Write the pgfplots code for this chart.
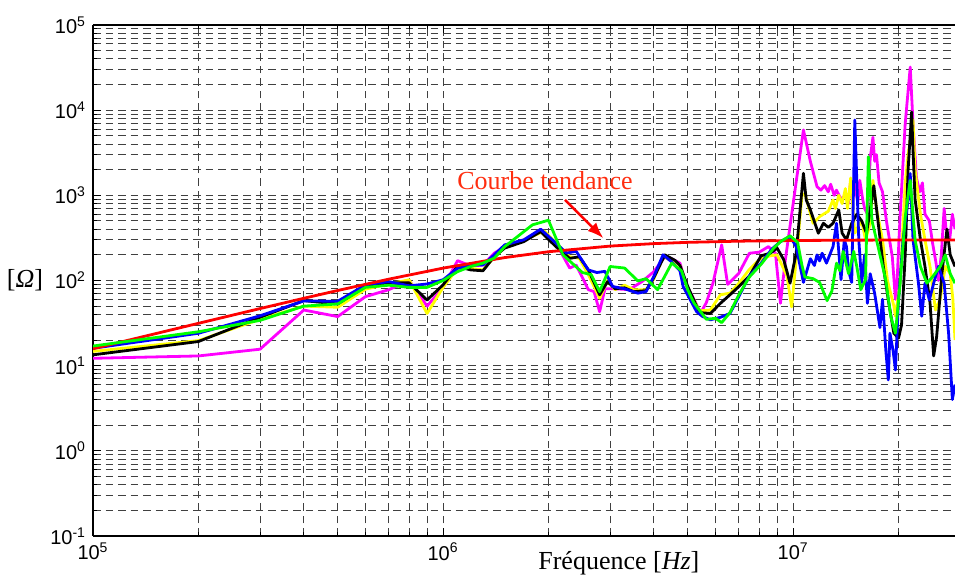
\documentclass[border=0pt]{standalone}
\usepackage{fontspec}
\setmainfont{Liberation Serif}
\setsansfont{Liberation Sans}
\usepackage{pgfplots}
\pgfplotsset{compat=1.18}
\usetikzlibrary{arrows.meta}
\definecolor{annot}{RGB}{255,45,15}
\definecolor{cmag}{RGB}{255,0,255}
\definecolor{cyel}{RGB}{255,255,0}
\definecolor{cgre}{RGB}{0,255,0}
\definecolor{cblu}{RGB}{0,0,255}
\definecolor{cred}{RGB}{255,0,0}
\begin{document}
\begin{tikzpicture}
\begin{axis}[
  scale only axis, width=431pt, height=255.5pt,
  xmode=log, ymode=log,
  xmin=1e5, xmax=2.9e7, ymin=1e-1, ymax=1e5,
  axis x line=box, axis y line=left,
  axis line style={-, line width=0.7pt, black},
  every outer x axis line/.append style={-},
  every outer y axis line/.append style={-},
  tick align=inside,
  xtick={1e5,1e6,1e7},
  xticklabels={10\textsuperscript{5},10\textsuperscript{6},10\textsuperscript{7}},
  ytick={1e-1,1,10,100,1000,1e4,1e5},
  yticklabels={10\textsuperscript{-1},10\textsuperscript{0},10\textsuperscript{1},10\textsuperscript{2},10\textsuperscript{3},10\textsuperscript{4},10\textsuperscript{5}},
  minor xtick={2e5,3e5,4e5,5e5,6e5,7e5,8e5,9e5,2e6,3e6,4e6,5e6,6e6,7e6,8e6,9e6,2e7},
  minor ytick={0.2,0.3,0.4,0.5,0.6,0.7,0.8,0.9,2,3,4,5,6,7,8,9,20,30,40,50,60,70,80,90,200,300,400,500,600,700,800,900,2000,3000,4000,5000,6000,7000,8000,9000,20000,30000,40000,50000,60000,70000,80000,90000},
  grid=both,
  major grid style={black!75, dash pattern=on 3.75pt off 2.5pt, line width=0.5pt},
  minor grid style={black!75, dash pattern=on 3.75pt off 2.5pt, line width=0.5pt},
  tick style={black, line width=0.5pt},
  major tick length=4pt, minor tick length=2pt,
  ticklabel style={font=\sffamily\fontsize{10}{12}\selectfont},
  xlabel={Fréquence [\textit{Hz}]},
  ylabel={[\textit{Ω}]},
  every axis x label/.style={at={(axis description cs:0.61,0)},anchor=center,yshift=-13.5pt,font=\fontsize{13}{15}\selectfont},
  every axis y label/.style={at={(axis description cs:0,0.5)},anchor=center,xshift=-34pt,font=\fontsize{13}{15}\selectfont},
  every axis plot/.append style={line width=1.4pt, line join=round},
]
% magenta
\addplot[cmag] coordinates {
(1e5,12.2) (2e5,13) (3e5,15.6) (4e5,45) (5e5,37.7) (6e5,64.6) (7e5,78) (8e5,100) (9e5,50) (1e6,83)
(1.1e6,171) (1.2e6,148) (1.3e6,152) (1.4e6,209) (1.5e6,250) (1.7e6,290) (1.9e6,400) (2.1e6,275)
(2.3e6,140) (2.4e6,152) (2.6e6,78) (2.7e6,74) (2.8e6,43) (2.9e6,80) (3.1e6,80) (3.4e6,78) (3.7e6,97)
(4e6,127) (4.3e6,190) (4.5e6,180) (4.75e6,160) (5e6,78) (5.1e6,71) (5.35e6,48) (5.45e6,42) (5.65e6,55)
(5.9e6,93) (6.25e6,262) (6.5e6,90) (7e6,122) (7.5e6,209) (8e6,215) (8.5e6,250) (8.9e6,209) (9.2e6,54)
(9.5e6,175) (1e7,800) (1.07e7,5860) (1.12e7,2500) (1.17e7,1265) (1.2e7,1150) (1.23e7,1300) (1.26e7,1100)
(1.28e7,1350) (1.31e7,1000) (1.33e7,1150) (1.37e7,900) (1.41e7,1000) (1.44e7,800) (1.46e7,1500) (1.48e7,900)
(1.5e7,1400) (1.53e7,800) (1.55e7,1500) (1.58e7,900) (1.6e7,700) (1.63e7,600) (1.66e7,2700) (1.69e7,4800)
(1.71e7,2500) (1.73e7,3000) (1.76e7,1400) (1.8e7,1100) (1.85e7,480) (1.92e7,190) (1.96e7,60) (1.98e7,93)
(2.02e7,560) (2.09e7,7000) (2.16e7,32000) (2.2e7,7000) (2.25e7,1600) (2.3e7,1100) (2.34e7,1400) (2.38e7,600)
(2.45e7,500) (2.5e7,280) (2.56e7,160) (2.6e7,100) (2.65e7,200) (2.7e7,700) (2.73e7,420) (2.8e7,300) (2.85e7,600) (2.9e7,400)
};
% yellow
\addplot[cyel] coordinates {
(1e5,14.7) (2e5,19.7) (3e5,35) (4e5,50) (5e5,48.5) (6e5,79) (7e5,91) (8e5,102) (9e5,41) (1e6,83)
(1.1e6,139) (1.2e6,139) (1.3e6,133) (1.4e6,188) (1.5e6,245) (1.7e6,300) (1.95e6,380) (2.1e6,275)
(2.3e6,190) (2.45e6,182) (2.6e6,117) (2.8e6,62) (2.95e6,100) (3.1e6,78) (3.3e6,88) (3.5e6,78) (3.8e6,78)
(4e6,104) (4.25e6,190) (4.6e6,165) (4.75e6,150) (5e6,80) (5.4e6,44) (5.8e6,45) (6.2e6,68) (6.6e6,71)
(7e6,93) (7.5e6,135) (8e6,175) (8.6e6,195) (9e6,200) (9.6e6,113) (9.9e6,49) (1.02e7,175) (1.06e7,1000)
(1.08e7,1050) (1.14e7,470) (1.19e7,562) (1.22e7,600) (1.26e7,650) (1.3e7,883) (1.32e7,700) (1.35e7,1000)
(1.38e7,800) (1.41e7,1200) (1.43e7,700) (1.46e7,1600) (1.5e7,360) (1.53e7,420) (1.57e7,500) (1.61e7,300)
(1.66e7,470) (1.69e7,1500) (1.73e7,700) (1.8e7,300) (1.86e7,100) (1.94e7,50) (1.96e7,38) (2.02e7,93)
(2.09e7,1390) (2.13e7,3000) (2.2e7,7700) (2.23e7,2000) (2.31e7,600) (2.38e7,300) (2.46e7,146) (2.55e7,45)
(2.63e7,60) (2.72e7,146) (2.81e7,120) (2.86e7,60) (2.9e7,20)
};
% black
\addplot[black] coordinates {
(1e5,13.4) (2e5,19.2) (3e5,37) (4e5,58) (5e5,53) (6e5,85) (7e5,94) (8e5,94) (9e5,59) (1e6,89)
(1.1e6,146) (1.2e6,133) (1.3e6,130) (1.4e6,191) (1.5e6,240) (1.7e6,286) (1.9e6,375) (2.1e6,250)
(2.3e6,182) (2.45e6,190) (2.6e6,133) (2.8e6,68) (2.95e6,97) (3.1e6,80) (3.3e6,82) (3.5e6,74) (3.8e6,76)
(4e6,108) (4.3e6,200) (4.6e6,172) (4.75e6,150) (5e6,85) (5.4e6,42) (5.8e6,41) (6.2e6,54) (6.6e6,68)
(7e6,85) (7.5e6,113) (8.1e6,195) (8.6e6,209) (9e6,240) (9.4e6,175) (9.8e6,93) (1.02e7,209) (1.07e7,1815)
(1.09e7,883) (1.12e7,674) (1.18e7,359) (1.22e7,470) (1.26e7,420) (1.3e7,470) (1.35e7,674) (1.38e7,360)
(1.42e7,300) (1.47e7,470) (1.52e7,600) (1.57e7,500) (1.62e7,359) (1.66e7,674) (1.7e7,1300) (1.75e7,470)
(1.81e7,146) (1.87e7,59) (1.94e7,24) (2e7,21) (2.04e7,30) (2.09e7,200) (2.13e7,2000) (2.18e7,9500)
(2.2e7,3400) (2.23e7,900) (2.31e7,300) (2.38e7,146) (2.46e7,55) (2.52e7,13) (2.57e7,22) (2.66e7,120)
(2.75e7,400) (2.81e7,200) (2.9e7,146)
};
% blue
\addplot[cblu] coordinates {
(1e5,16) (2e5,24) (3e5,38.5) (4e5,57.6) (5e5,57) (6e5,89) (7e5,97) (8e5,86.5) (9e5,91) (1e6,102)
(1.1e6,139) (1.2e6,152) (1.3e6,152) (1.4e6,200) (1.5e6,262) (1.7e6,300) (1.9e6,400) (2.1e6,275)
(2.25e6,210) (2.4e6,220) (2.6e6,133) (2.75e6,124) (2.9e6,128) (3.05e6,85) (3.3e6,80) (3.6e6,71) (3.8e6,74)
(4e6,112) (4.25e6,200) (4.5e6,165) (4.75e6,130) (4.85e6,85) (5.3e6,43) (5.5e6,38) (5.8e6,34.5) (6.2e6,37)
(6.6e6,41) (7e6,65) (7.5e6,113) (8.1e6,160) (8.7e6,235) (9.2e6,286) (9.8e6,328) (1.02e7,250) (1.07e7,95)
(1.12e7,180) (1.15e7,150) (1.17e7,200) (1.19e7,170) (1.21e7,209) (1.245e7,160) (1.3e7,250) (1.33e7,470)
(1.37e7,102) (1.4e7,300) (1.42e7,250) (1.44e7,130) (1.47e7,95) (1.5e7,7670) (1.54e7,300) (1.57e7,95)
(1.6e7,200) (1.63e7,54) (1.66e7,120) (1.71e7,70) (1.77e7,28) (1.8e7,60) (1.84e7,15) (1.87e7,6.8)
(1.89e7,24) (1.93e7,15) (1.96e7,8.9) (2e7,59) (2.06e7,300) (2.13e7,900) (2.16e7,1800) (2.2e7,300)
(2.28e7,93) (2.33e7,38) (2.38e7,93) (2.45e7,59) (2.52e7,93) (2.6e7,146) (2.7e7,93) (2.78e7,24)
(2.85e7,4) (2.9e7,6)
};
% red trend
\addplot[cred] coordinates {
(1e5,15.8) (2e5,31.4) (3e5,46.8) (4e5,61.8) (5e5,76.3) (7e5,103.7) (1e6,139.7) (1.5e6,185.8)
(2e6,217.5) (3e6,253.5) (4e6,271) (5e6,280.5) (7e6,289.5) (1e7,294.7) (1.5e7,297.6) (2e7,298.6) (3e7,299.4)
};
% green
\addplot[cgre] coordinates {
(1e5,17) (2e5,25) (3e5,34) (4e5,50) (5e5,53) (6e5,83) (7e5,88) (8e5,83) (9e5,83) (1e6,100)
(1.1e6,127) (1.2e6,146) (1.3e6,160) (1.4e6,183) (1.5e6,250) (1.8e6,450) (2e6,510) (2.2e6,200)
(2.5e6,124) (2.65e6,117) (2.8e6,74) (3e6,146) (3.3e6,140) (3.6e6,99) (3.8e6,105) (4.1e6,78) (4.5e6,160)
(4.8e6,130) (5e6,78) (5.2e6,55) (5.65e6,35) (6e6,36) (6.25e6,32) (6.6e6,42) (7e6,68) (7.5e6,110)
(8.1e6,155) (8.8e6,240) (9.2e6,286) (9.8e6,335) (1.03e7,280) (1.06e7,150) (1.08e7,110) (1.14e7,105)
(1.19e7,95) (1.25e7,58) (1.29e7,75) (1.33e7,160) (1.36e7,130) (1.39e7,220) (1.44e7,120) (1.49e7,220)
(1.52e7,146) (1.56e7,78) (1.61e7,102) (1.64e7,2840) (1.68e7,500) (1.73e7,300) (1.77e7,200) (1.84e7,100)
(1.9e7,38) (1.96e7,24) (2.02e7,90) (2.09e7,560) (2.16e7,1500) (2.23e7,300) (2.31e7,146) (2.41e7,93)
(2.5e7,110) (2.63e7,146) (2.72e7,200) (2.81e7,120) (2.9e7,93)
};
\node[text=annot, font=\fontsize{13}{15}\selectfont] at (axis cs:1.955e6,1500) {Courbe tendance};
\draw[cred, line width=1.2pt, -{Latex[length=8pt,width=6pt]}] (axis cs:2.23e6,884) -- (axis cs:2.87e6,314);
\end{axis}
\pgfresetboundingbox
\path[use as bounding box] ([xshift=-46.5pt,yshift=-20pt]current axis.south west) rectangle ([yshift=12.5pt]current axis.north east);
\end{tikzpicture}
\end{document}
